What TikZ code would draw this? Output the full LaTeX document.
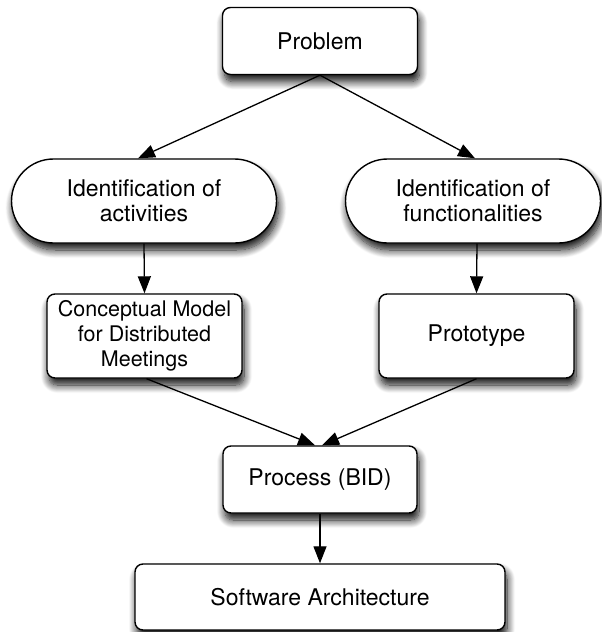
\documentclass[tikz,border=0pt]{standalone}
\usepackage{fontspec}
\setmainfont{TeX Gyre Heros}
\usetikzlibrary{arrows.meta,shapes.misc,shadows.blur}

\begin{document}
\begin{tikzpicture}[x=1pt,y=-1pt,
    base/.style={draw,line width=1.4pt,fill=white,align=center,inner sep=0pt,
      font=\fontsize{23}{25.5}\selectfont,
      blur shadow={shadow xshift=2pt,shadow yshift=-7pt,shadow blur radius=8pt,
        shadow blur steps=12,shadow opacity=95}},
    box/.style={base,rounded corners=8pt},
    pill/.style={base,rounded rectangle},
    link/.style={line width=1.3pt,-{Triangle[length=17pt,width=13pt]}}]
  \useasboundingbox (0,0) rectangle (602,632);
  % Problem
  \node[box,minimum width=195,minimum height=67] (problem) at (320,41) {Problem};
  % activities / functionalities
  \node[pill,minimum width=265,minimum height=84] (activities) at (144,201)
    {Identification of\\activities};
  \node[pill,minimum width=255,minimum height=84] (functions) at (473,201)
    {Identification of\\functionalities};
  % model and prototype
  \node[box,minimum width=195,minimum height=84,
    font=\fontsize{21.5}{25}\selectfont] (model) at (144.5,336)
    {Conceptual Model\\for Distributed\\Meetings};
  \node[box,minimum width=195,minimum height=84] (prototype) at (476.5,336) {Prototype};
  % Process
  \node[box,minimum width=194,minimum height=67] (process) at (320,479.5) {Process (BID)};
  % Architecture
  \node[box,minimum width=370,minimum height=66] (arch) at (320,597) {Software Architecture};

  \draw[link] (problem.south) -- ([xshift=-6pt]activities.north);
  \draw[link] (problem.south) -- ([xshift=2pt]functions.north);
  \draw[link] (activities.south) -- (model.north);
  \draw[link] ([xshift=4pt]functions.south) -- (prototype.north);
  \draw[link] ([xshift=2pt]model.south) -- ([xshift=-5pt]process.north);
  \draw[link] (prototype.south) -- ([xshift=2pt]process.north);
  \draw[link] (process.south) -- (arch.north);
\end{tikzpicture}
\end{document}
